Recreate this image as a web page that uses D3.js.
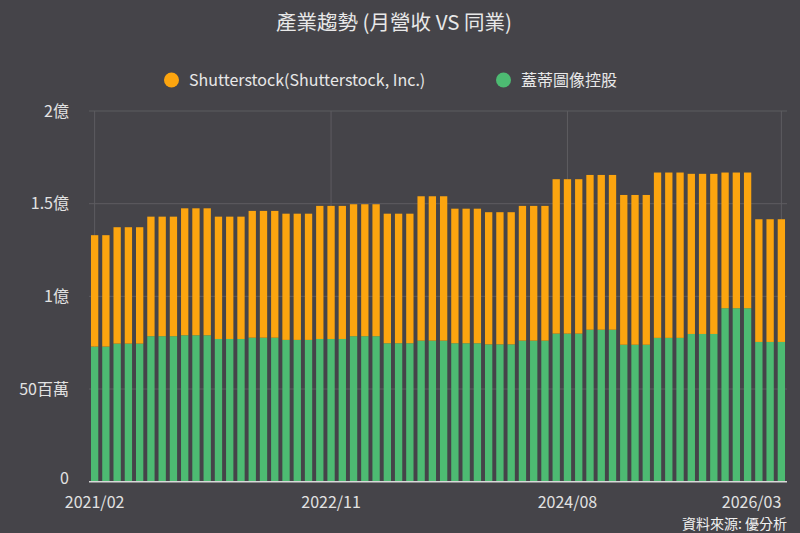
<!DOCTYPE html>
<html>
<head>
<meta charset="utf-8">
<script src="https://cdn.jsdelivr.net/npm/d3@7"></script>
<style>
  html, body { margin: 0; padding: 0; background: #454449; }
  svg text { font-family: "Noto Sans CJK TC", "Noto Sans", sans-serif; }
</style>
</head>
<body>
<div id="chart"></div>
<script>
// Months (categories)
const months = [
  "2021/02","2021/03","2021/04","2021/05","2021/06","2021/07","2021/08","2021/09","2021/10","2021/11","2021/12",
  "2022/01","2022/02","2022/03","2022/04","2022/05","2022/06","2022/07","2022/08","2022/09","2022/10","2022/11","2022/12",
  "2023/01","2023/02","2023/03","2023/04","2023/05","2023/06","2023/07","2023/08","2023/09","2023/10","2023/11","2023/12",
  "2024/01","2024/02","2024/03","2024/04","2024/05","2024/06","2024/07","2024/08","2024/09","2024/10","2024/11","2024/12",
  "2025/01","2025/02","2025/03","2025/04","2025/05","2025/06","2025/07","2025/08","2025/09","2025/10","2025/11","2025/12",
  "2026/01","2026/02","2026/03"
];

// 蓋蒂圖像控股 monthly revenue (millions)
const gettyValues = [
  72.9,72.9, 74.5,74.5,74.5, 78.5,78.5,78.5, 79.0,79.0,79.0,
  77.0,77.0,77.0, 77.7,77.7,77.7, 76.5,76.5,76.5, 77.0,77.0,77.0,
  78.5,78.5,78.5, 74.7,74.7,74.7, 76.1,76.1,76.1, 74.7,74.7,74.7,
  74.1,74.1,74.1, 76.1,76.1,76.1, 79.9,79.9,79.9, 82.0,82.0,82.0,
  73.9,73.9,73.9, 77.6,77.6,77.6, 79.7,79.7,79.7, 93.6,93.6,93.6,
  75.4,75.4,75.4
];

// Shutterstock monthly revenue (millions)
const shutterValues = [
  60.1,60.1, 62.8,62.8,62.8, 64.5,64.5,64.5, 68.5,68.5,68.5,
  66.0,66.0,66.0, 68.4,68.4,68.4, 68.1,68.1,68.1, 71.8,71.8,71.8,
  71.2,71.2,71.2, 69.9,69.9,69.9, 77.9,77.9,77.9, 72.6,72.6,72.6,
  71.3,71.3,71.3, 72.7,72.7,72.7, 83.3,83.3,83.3, 83.5,83.5,83.5,
  80.8,80.8,80.8, 89.2,89.2,89.2, 86.4,86.4,86.4, 73.2,73.2,73.2,
  66.2,66.2,66.2
];

const xTickLabels = ["2021/02", "2022/11", "2024/08", "2026/03"];
const yTickValues = [0, 50, 100, 150, 200];
const yTickLabels = ["0", "50百萬", "1億", "1.5億", "2億"];

const seriesNames = ["蓋蒂圖像控股", "Shutterstock(Shutterstock, Inc.)"];
const colors = { getty: "#4dbb72", shutter: "#fca50f" };

const width = 800, height = 533;
const plot = { left: 89, right: 787, top: 111, bottom: 481.7 };

const svg = d3.select("#chart").append("svg")
  .attr("width", width)
  .attr("height", height)
  .style("display", "block");

svg.append("rect")
  .attr("width", width).attr("height", height)
  .attr("fill", "#454449");

// Build table for stacking
const table = months.map((m, i) => ({ month: m, getty: gettyValues[i], shutter: shutterValues[i] }));
const stacked = d3.stack().keys(["getty", "shutter"])(table);

// Scales
const x = d3.scaleBand()
  .domain(months)
  .range([plot.left, plot.right])
  .paddingInner(0.35)
  .paddingOuter(0.175);

const y = d3.scaleLinear()
  .domain([0, 200])
  .range([plot.bottom, plot.top]);

const xc = m => x(m) + x.bandwidth() / 2;

// Horizontal grid
svg.append("g")
  .selectAll("line")
  .data(yTickValues.slice(1))
  .join("line")
  .attr("x1", plot.left).attr("x2", plot.right)
  .attr("y1", d => y(d)).attr("y2", d => y(d))
  .attr("stroke", "#5d5c61")
  .attr("stroke-width", 1);

// Vertical grid at labelled months
svg.append("g")
  .selectAll("line")
  .data(xTickLabels)
  .join("line")
  .attr("x1", d => xc(d)).attr("x2", d => xc(d))
  .attr("y1", plot.top).attr("y2", plot.bottom)
  .attr("stroke", "#5d5c61")
  .attr("stroke-width", 1);

// Bars
svg.append("g")
  .selectAll("g")
  .data(stacked)
  .join("g")
  .attr("fill", d => colors[d.key])
  .selectAll("rect")
  .data(d => d)
  .join("rect")
  .attr("x", d => x(d.data.month))
  .attr("y", d => y(d[1]))
  .attr("width", x.bandwidth())
  .attr("height", d => y(d[0]) - y(d[1]));

// Bottom axis line
svg.append("line")
  .attr("x1", plot.left).attr("x2", plot.right)
  .attr("y1", plot.bottom).attr("y2", plot.bottom)
  .attr("stroke", "#d8d8d8")
  .attr("stroke-width", 1.5);

// Y labels (the "0" nudged up a little so it clears the first date)
svg.append("g")
  .selectAll("text")
  .data(yTickValues)
  .join("text")
  .attr("x", 69)
  .attr("y", d => d === 0 ? y(d) - 3 : y(d))
  .attr("dy", "0.35em")
  .attr("text-anchor", "end")
  .attr("fill", "#e2e2e2")
  .style("font-size", "16px")
  .text((d, i) => yTickLabels[i]);

// X labels (last one pulled in to stay inside)
svg.append("g")
  .selectAll("text")
  .data(xTickLabels)
  .join("text")
  .attr("x", d => xc(d))
  .attr("y", 502)
  .attr("dy", "0.35em")
  .attr("text-anchor", (d, i) => i === xTickLabels.length - 1 ? "end" : "middle")
  .attr("fill", "#e2e2e2")
  .style("font-size", "16px")
  .text(d => d);

// Title
svg.append("text")
  .attr("x", 394)
  .attr("y", 23)
  .attr("dy", "0.35em")
  .attr("text-anchor", "middle")
  .attr("fill", "#e8e8e8")
  .style("font-size", "20.5px")
  .text("產業趨勢 (月營收 VS 同業)");

// Legend
const legend = [
  { name: seriesNames[1], color: colors.shutter, cx: 171.5, tx: 189 },
  { name: seriesNames[0], color: colors.getty, cx: 503.5, tx: 521 }
];
const lg = svg.append("g")
  .selectAll("g")
  .data(legend)
  .join("g");
lg.append("circle")
  .attr("cx", d => d.cx).attr("cy", 80).attr("r", 7.5)
  .attr("fill", d => d.color);
lg.append("text")
  .attr("x", d => d.tx).attr("y", 80)
  .attr("dy", "0.35em")
  .attr("fill", "#e8e8e8")
  .style("font-size", "16px")
  .text(d => d.name);

// Source
svg.append("text")
  .attr("x", 787)
  .attr("y", 524.5)
  .attr("dy", "0.35em")
  .attr("text-anchor", "end")
  .attr("fill", "#f0f0f0")
  .style("font-size", "14px")
  .text("資料來源: 優分析");
</script>
</body>
</html>
